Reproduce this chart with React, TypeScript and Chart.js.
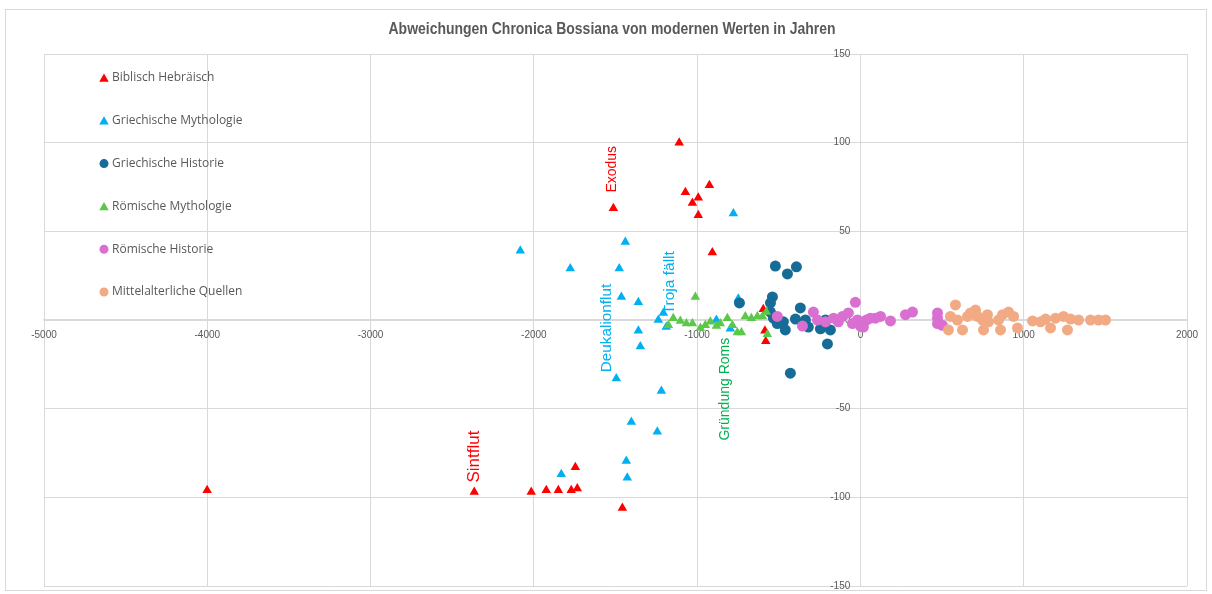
import React, { useEffect, useRef } from 'react';
import { Chart, registerables } from 'chart.js';

Chart.register(...registerables);

const chartTitle = 'Abweichungen Chronica Bossiana von modernen Werten in Jahren';
const seriesNames = [
  'Biblisch Hebräisch',
  'Griechische Mythologie',
  'Griechische Historie',
  'Römische Mythologie',
  'Römische Historie',
  'Mittelalterliche Quellen',
];
const seriesColors = ['#FF0000', '#00B0F0', '#156C96', '#5CC84A', '#D96FD0', '#F2AA84'];
const seriesShapes = ['triangle', 'triangle', 'circle', 'triangle', 'circle', 'circle'];

const biblischX = [-4001, -2365, -2016, -1924, -1850, -1771, -1734, -1746, -1458, -1110, -1513, -1072, -925, -993, -1029, -993, -907, -595, -585, -580];
const biblischY = [-96, -97, -97, -96, -96, -96, -95, -83, -106, 100, 63, 72, 76, 69, 66, 59, 38, 6, -6, -12];

const griechMythX = [-2083, -1777, -1477, -1440, -1464, -1360, -1360, -1348, -778, -1238, -1207, -1189, -1495, -1219, -1403, -1244, -1434, -1428, -1832, -748, -882, -797];
const griechMythY = [39, 29, 29, 44, 13, 10, -6, -15, 60, 0, 4, -4, -33, -40, -57.5, -63, -79.5, -89, -87, 12, 0, -5];

const griechHistX = [-741, -521, -447, -392, -539, -551, -551, -533, -509, -472, -460, -368, -398, -337, -319, -245, -214, -184, -202, -429];
const griechHistY = [9.6, 30.4, 26, 30, 13, 9.6, 4.5, 1, -2, -1, -5.6, 6.8, 0.5, 0, -4, -5, 0, -5.6, -13.5, -30];

const roemMythX = [-1011, -1146, -1176, -1103, -1066, -1029, -980, -950, -919, -882, -858, -815, -784, -754, -729, -705, -668, -631, -600, -576, -570];
const roemMythY = [13, 1, -3, -0.5, -2, -2, -4.5, -3, -1, -3.4, -2, 1, -3, -7, -7, 2, 1, 2, 2, 4.5, -8];

const roemHistX = [-509, -355, -288, -263, -214, -165, -135, -110, -74, -31, -49, -18, 0, 18, 37, 61, 92, 123, 184, 276, 319, 472, 472, 472, 502];
const roemHistY = [2, -3.4, 4.5, 0, -1, 1, -1, 2, 4, 10, -2, 0, -3.4, -4, 0, 1, 1, 2, -0.5, 3, 4.5, 4, 1, -2, -3];

const mittelX = [582, 551, 539, 594, 625, 656, 674, 705, 717, 748, 754, 778, 784, 846, 858, 870, 907, 938, 962, 1054, 1103, 1134, 1164, 1195, 1244, 1268, 1287, 1336, 1409, 1458, 1501];
const mittelY = [8.5, 2, -5.6, 0, -5.6, 2, 4, 5.6, 2, 0, -5.6, 3, -1, 0, -5.6, 3, 4.5, 2, -4.5, -0.5, -1, 0.5, -4.5, 1, 2, -5.6, 0.5, 0, 0, 0, 0];

const xTickValues = [-5000, -4000, -3000, -2000, -1000, 0, 1000, 2000];
const yTickValues = [-150, -100, -50, 0, 50, 100, 150];

const annotationTexts = ['Exodus', 'Sintflut', 'Deukalionflut', 'Troja fällt', 'Gründung Roms'];
const annotationX = [-1520, -2365, -1556, -1170, -827];
const annotationY = [85, -77, -4.5, 21, -39];
const annotationColors = ['#FF0000', '#FF0000', '#00B0F0', '#00B0F0', '#00B050'];
const annotationSizes = [14, 17, 15.3, 15.5, 14];

const seriesX = [biblischX, griechMythX, griechHistX, roemMythX, roemHistX, mittelX];
const seriesY = [biblischY, griechMythY, griechHistY, roemMythY, roemHistY, mittelY];

const W = 1212;
const H = 594;
const TEXT_GRAY = '#595959';
const GRID = '#D9D9D9';

function drawMarker(ctx: CanvasRenderingContext2D, shape: string, x: number, y: number, r: number, color: string) {
  ctx.save();
  ctx.fillStyle = color;
  ctx.beginPath();
  if (shape === 'triangle') {
    let rad = 0;
    const TT = (Math.PI * 2) / 3;
    ctx.moveTo(x + Math.sin(rad) * r, y - Math.cos(rad) * r);
    rad += TT;
    ctx.lineTo(x + Math.sin(rad) * r, y - Math.cos(rad) * r);
    rad += TT;
    ctx.lineTo(x + Math.sin(rad) * r, y - Math.cos(rad) * r);
    ctx.closePath();
  } else {
    ctx.arc(x, y, r, 0, Math.PI * 2);
  }
  ctx.fill();
  ctx.restore();
}

const decorPlugin = {
  id: 'decor',
  beforeDraw(chart: any) {
    const ctx = chart.ctx as CanvasRenderingContext2D;
    ctx.save();
    ctx.fillStyle = '#FFFFFF';
    ctx.fillRect(0, 0, W, H);
    ctx.strokeStyle = GRID;
    ctx.lineWidth = 1;
    ctx.strokeRect(5.5, 9.5, W - 11, H - 13);
    // title, horizontally condensed to match the narrow original face
    ctx.fillStyle = TEXT_GRAY;
    ctx.font = 'bold 16px "Liberation Sans", Arial, sans-serif';
    ctx.textAlign = 'center';
    ctx.textBaseline = 'middle';
    const tw = ctx.measureText(chartTitle).width;
    const sx = 447 / tw;
    ctx.translate(612, 30);
    ctx.scale(sx, 1);
    ctx.fillText(chartTitle, 0, 0);
    ctx.restore();
  },
  afterDraw(chart: any) {
    const ctx = chart.ctx as CanvasRenderingContext2D;
    const xs = chart.scales.x;
    const ys = chart.scales.y;
    ctx.save();
    // legend inside plot area
    ctx.font = '12px "Open Sans", sans-serif';
    ctx.textAlign = 'left';
    ctx.textBaseline = 'middle';
    seriesNames.forEach((name, i) => {
      const y = 78 + i * 42.8;
      drawMarker(ctx, seriesShapes[i], 104, seriesShapes[i] === 'triangle' ? y + 1 : y, seriesShapes[i] === 'triangle' ? 5.5 : 4.5, seriesColors[i]);
      ctx.fillStyle = TEXT_GRAY;
      ctx.fillText(name, 112, y);
    });
    // rotated labels
    annotationTexts.forEach((t, i) => {
      const px = xs.getPixelForValue(annotationX[i]);
      const py = ys.getPixelForValue(annotationY[i]);
      ctx.save();
      ctx.translate(px, py);
      ctx.rotate(-Math.PI / 2);
      ctx.font = `${annotationSizes[i]}px "Liberation Sans", Arial, sans-serif`;
      ctx.fillStyle = annotationColors[i];
      ctx.textAlign = 'center';
      ctx.textBaseline = 'middle';
      ctx.fillText(t, 0, 0);
      ctx.restore();
    });
    ctx.restore();
  },
};

export default function App() {
  const ref = useRef<HTMLCanvasElement | null>(null);
  useEffect(() => {
    if (!ref.current) return;
    const datasets = seriesNames.map((name, i) => ({
      label: name,
      data: seriesX[i].map((x, j) => ({ x, y: seriesY[i][j] })),
      pointStyle: seriesShapes[i],
      pointRadius: seriesShapes[i] === 'triangle' ? 5.5 : 5.5,
      pointHoverRadius: 5.5,
      backgroundColor: seriesColors[i],
      borderColor: seriesColors[i],
      borderWidth: 0,
      showLine: false,
      order: seriesNames.length - i,
    }));
    const tickFont = { size: 10, family: '"Liberation Sans", Arial, sans-serif' };
    const zeroPad = (scale: any) => {
      scale.paddingTop = 0;
      scale.paddingBottom = 0;
      scale.paddingLeft = 0;
      scale.paddingRight = 0;
    };
    const chart = new Chart(ref.current, {
      type: 'scatter',
      data: { datasets },
      plugins: [decorPlugin],
      options: {
        animation: false,
        responsive: false,
        maintainAspectRatio: false,
        layout: { padding: { left: 44, right: W - 1187, top: 54, bottom: H - 586 } },
        plugins: {
          legend: { display: false },
          title: { display: false },
          tooltip: { enabled: false },
        },
        scales: {
          x: {
            type: 'linear',
            min: -5000,
            max: 2000,
            position: { y: 0 },
            afterBuildTicks: (scale: any) => {
              scale.ticks = xTickValues.map((v) => ({ value: v }));
            },
            afterFit: zeroPad,
            ticks: {
              color: TEXT_GRAY,
              font: tickFont,
              padding: 9,
              maxRotation: 0,
              autoSkip: false,
              callback: (v: any) => String(v),
            },
            grid: { color: GRID, drawTicks: false },
            border: { color: GRID, width: 1.5 },
          },
          y: {
            type: 'linear',
            min: -150,
            max: 150,
            // labels sit just left of the vertical zero line
            position: { x: -62 },
            afterBuildTicks: (scale: any) => {
              scale.ticks = yTickValues.map((v) => ({ value: v }));
            },
            afterFit: zeroPad,
            ticks: { color: TEXT_GRAY, font: tickFont, padding: 0, autoSkip: false, callback: (v: any) => String(v) },
            grid: { color: GRID, drawTicks: false },
            border: { display: false },
          },
        },
      } as any,
    });
    return () => chart.destroy();
  }, []);
  return (
    <div style={{ position: 'absolute', left: 0, top: 0, width: W, height: H }}>
      <canvas ref={ref} width={W} height={H} style={{ width: W, height: H, display: 'block' }} />
    </div>
  );
}
